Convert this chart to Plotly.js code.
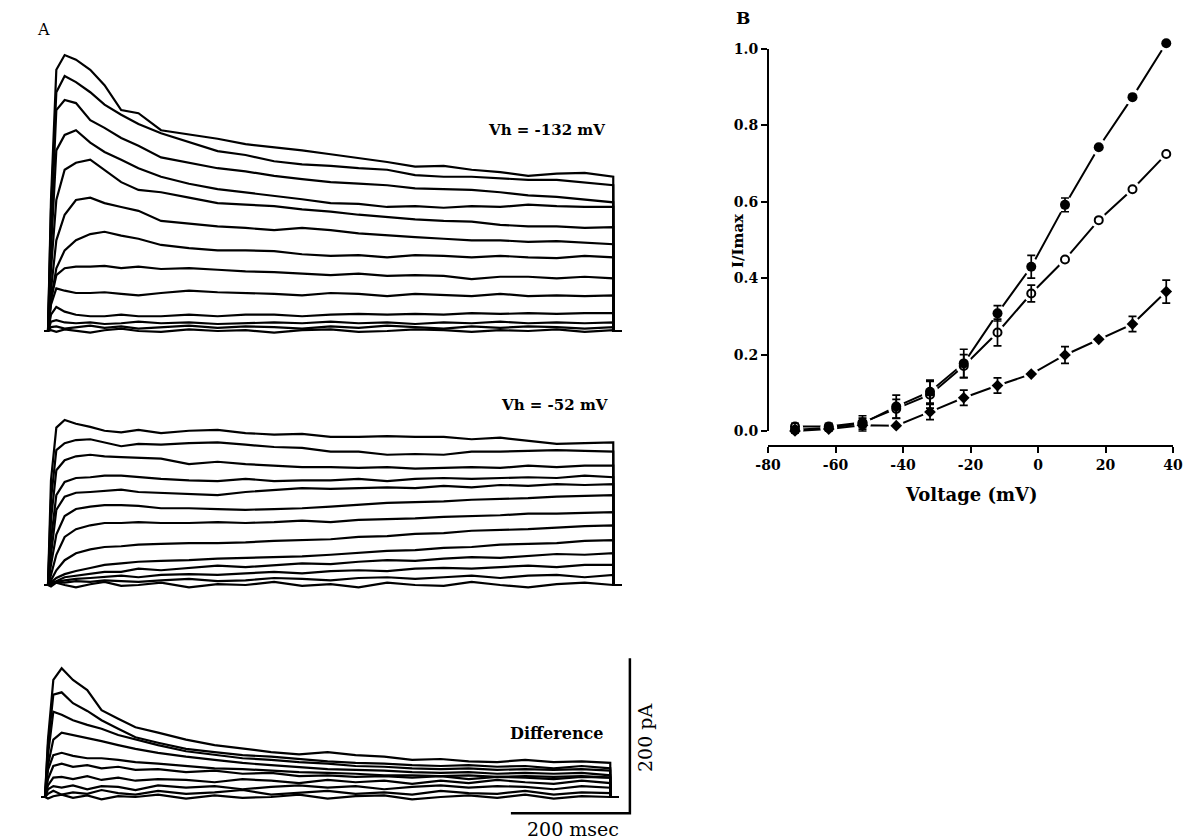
<!DOCTYPE html>
<html>
<head>
<meta charset="utf-8">
<script src="https://cdn.plot.ly/plotly-3.0.1.min.js"></script>
<style>html,body{margin:0;padding:0;background:#fff;}#chart{width:1193px;height:840px;}</style>
</head>
<body>
<div id="chart"></div>
<script>
// ---------- Panel A data (current traces, pA vs time, ms) ----------
const TIME_MS = [0,5,14,28,47,71,95,123,152,190,237,285,332,380,427,475,522,570,617,665,712,760,807,855,902,950];
const PULSE_END_MS = 950;

// Vh = -132 mV family (pA)
const vh132Traces = [
  [0,169,337,356,350,337,317,285,281,259,254,248,241,237,233,228,223,218,212,213,208,205,200,203,204,199],
  [0,156,308,329,321,308,292,279,267,255,244,232,227,219,215,213,210,208,201,199,199,197,195,195,192,188],
  [0,130,285,298,294,272,262,249,239,224,217,210,206,200,196,192,190,188,184,183,182,179,175,173,170,166],
  [0,104,233,253,259,243,231,221,210,199,190,183,179,174,170,165,164,160,161,159,161,160,163,161,160,160],
  [0,79,169,208,217,221,208,192,182,179,172,165,163,161,157,154,150,147,144,142,141,137,135,135,133,134],
  [0,53,117,150,169,172,165,160,155,142,139,135,133,130,133,130,126,123,121,119,117,117,115,116,114,112],
  [0,40,81,104,117,125,128,123,119,111,107,104,104,103,99,97,98,95,98,97,95,97,95,94,97,95],
  [0,40,72,81,83,83,84,81,83,80,81,79,77,76,74,72,74,71,72,71,67,70,70,68,70,68],
  [0,34,55,52,49,49,50,48,46,49,52,50,49,48,46,49,48,45,48,46,45,48,45,46,45,46],
  [0,21,31,25,21,19,19,21,19,19,21,19,21,21,19,21,22,21,22,21,23,22,23,22,23,23],
  [0,12,14,11,10,11,9,10,12,10,11,9,10,11,10,12,10,11,9,11,10,12,10,11,10,11],
  [0,5,6,3,5,7,4,6,3,5,7,4,6,5,3,6,4,7,5,3,6,4,6,5,3,5],
  [0,1,-1,2,0,-2,1,3,0,-1,2,0,1,-2,1,2,-1,0,2,1,-1,1,0,2,-1,1]
];

// Vh = -52 mV family (pA)
const vh52Traces = [
  [0,135,203,213,208,204,199,197,200,196,199,200,196,194,195,191,191,192,191,191,188,190,186,182,183,184],
  [0,110,174,183,187,188,184,179,182,181,183,184,181,178,177,172,172,168,169,168,172,172,173,174,173,172],
  [0,84,148,161,166,168,166,165,164,163,156,159,156,154,152,152,151,152,150,151,152,151,154,152,154,154],
  [0,58,116,133,138,139,141,141,139,137,135,134,137,134,135,135,137,134,137,138,137,138,139,138,141,139],
  [0,39,97,114,119,120,121,123,120,119,117,116,120,123,125,124,125,126,125,128,126,129,128,130,129,130],
  [0,26,65,89,98,101,103,103,102,99,99,98,97,98,99,101,103,106,107,108,110,111,112,114,115,116],
  [0,13,39,62,72,77,80,80,81,80,80,81,80,81,83,81,84,85,86,88,89,90,92,92,93,94],
  [0,6,19,32,41,46,49,50,52,53,54,54,55,57,58,59,62,63,66,67,70,71,72,74,76,77],
  [0,3,9,14,18,22,26,28,30,31,32,34,35,36,37,39,41,44,45,48,49,52,53,54,57,58],
  [0,1,5,10,12,15,17,17,21,19,22,25,23,26,28,27,30,32,31,34,36,35,37,40,39,41],
  [0,1,4,6,8,9,10,12,10,13,14,13,15,17,15,18,19,18,21,22,21,23,25,23,26,26],
  [0,3,4,3,5,4,6,5,4,6,8,5,6,9,8,6,9,10,8,10,12,9,12,13,10,13],
  [0,-2,3,0,-3,1,4,-1,0,3,-3,1,0,4,-1,1,-3,3,0,-1,4,0,-3,1,3,0]
];

// Difference family (pA)
const diffTraces = [
  [0,74,151,166,151,138,112,101,90,83,74,67,63,58,55,58,54,52,48,49,46,45,48,45,46,44],
  [0,67,132,135,121,111,99,88,77,70,62,58,54,52,49,46,44,43,41,40,41,39,40,37,40,37],
  [0,54,110,106,99,93,88,80,74,67,59,54,50,48,45,43,40,39,37,36,37,35,36,35,36,34],
  [0,41,74,83,80,76,72,67,62,57,52,48,44,41,39,36,35,34,32,31,32,30,31,30,31,28],
  [0,35,54,57,53,50,50,48,45,43,40,37,36,34,32,31,30,28,28,27,28,26,27,26,27,25],
  [0,23,40,43,39,41,37,39,35,36,32,34,30,31,27,28,26,27,25,27,23,26,25,23,26,25],
  [0,15,25,26,23,27,22,25,21,23,22,19,23,21,18,22,19,21,17,21,18,22,19,17,21,18],
  [0,10,14,12,15,10,14,13,9,15,12,14,10,13,15,12,14,10,13,15,12,14,13,10,14,12],
  [0,4,8,3,6,4,9,5,3,8,4,6,9,3,5,8,4,6,3,8,5,4,8,3,6,5],
  [0,-2,1,3,-1,2,-3,1,0,3,-2,2,-1,0,3,-2,1,2,-3,0,2,-1,3,-2,1,0]
];

// Scale bar
const SCALE_MS = 200;
const SCALE_PA = 200;
const SCALE_ORIGIN_MS = 983;
const SCALE_ORIGIN_PA = -21;

// ---------- Panel B data ----------
const voltage   = [-72,-62,-52,-42,-32,-22,-12,-2,8,18,28,38];
const iFilled   = [0.003,0.008,0.020,0.064,0.103,0.177,0.308,0.430,0.592,0.743,0.874,1.015];
const errFilled = [0.008,0.008,0.020,0.030,0.030,0.037,0.020,0.030,0.018,0,0,0];
const iOpen     = [0.012,0.012,0.022,0.058,0.095,0.170,0.258,0.360,0.449,0.552,0.633,0.725];
const errOpen   = [0.008,0.008,0.012,0.025,0.035,0.030,0.035,0.022,0,0,0,0];
const iDiamond  = [0.000,0.005,0.015,0.014,0.050,0.087,0.119,0.149,0.199,0.240,0.280,0.365];
const errDiamond= [0,0,0.010,0,0.020,0.020,0.020,0,0.022,0,0.020,0.030];
const yTicksB   = [0,0.2,0.4,0.6,0.8,1.0];
const xTicksB   = [-80,-60,-40,-20,0,20,40];

// ---------- build ----------
const W = 1193, H = 840;
const px = v => v / W;
const py = v => 1 - v / H;
const SERIF = '"DejaVu Serif", "Liberation Serif", serif';

const data = [];
function addFamily(fam, xa, ya) {
  fam.forEach(vals => {
    data.push({
      type: 'scatter', mode: 'lines', xaxis: xa, yaxis: ya,
      x: [-6].concat(TIME_MS, [PULSE_END_MS + 0.5, PULSE_END_MS + 14]),
      y: [0].concat(vals, [0, 0]),
      line: {color: '#000', width: 2.2}, hoverinfo: 'skip'
    });
  });
}
addFamily(vh132Traces, 'x', 'y');
addFamily(vh52Traces, 'x2', 'y2');
addFamily(diffTraces, 'x3', 'y3');

data.push({
  type: 'scatter', mode: 'lines', xaxis: 'x3', yaxis: 'y3',
  x: [SCALE_ORIGIN_MS - SCALE_MS, SCALE_ORIGIN_MS, SCALE_ORIGIN_MS],
  y: [SCALE_ORIGIN_PA, SCALE_ORIGIN_PA, SCALE_ORIGIN_PA + SCALE_PA],
  line: {color: '#000', width: 2.5}, hoverinfo: 'skip', cliponaxis: false
});

const errArr = a => a.map(v => (v > 0 ? v : NaN));

// Panel B lines
[iFilled, iOpen, iDiamond].forEach(s => {
  data.push({type:'scatter', mode:'lines', xaxis:'x4', yaxis:'y4', x: voltage, y: s,
    line:{color:'#000', width:2}, cliponaxis:false, hoverinfo:'skip'});
});
// halos (gaps around markers)
[[iFilled,17],[iOpen,16],[iDiamond,15]].forEach(([s,sz]) => {
  data.push({type:'scatter', mode:'markers', xaxis:'x4', yaxis:'y4', x: voltage, y: s,
    marker:{color:'#fff', size: sz, line:{width:0}}, cliponaxis:false, hoverinfo:'skip'});
});
data.push({type:'scatter', mode:'markers', xaxis:'x4', yaxis:'y4', x: voltage, y: iDiamond,
  marker:{symbol:'diamond', color:'#000', size:9},
  error_y:{type:'data', array: errArr(errDiamond), visible:true, color:'#000', thickness:1.7, width:4},
  cliponaxis:false});
data.push({type:'scatter', mode:'markers', xaxis:'x4', yaxis:'y4', x: voltage, y: iOpen,
  marker:{symbol:'circle-open', color:'#000', size:8, line:{width:2, color:'#000'}},
  error_y:{type:'data', array: errArr(errOpen), visible:true, color:'#000', thickness:1.7, width:4},
  cliponaxis:false});
data.push({type:'scatter', mode:'markers', xaxis:'x4', yaxis:'y4', x: voltage, y: iFilled,
  marker:{symbol:'circle', color:'#000', size:10},
  error_y:{type:'data', array: errArr(errFilled), visible:true, color:'#000', thickness:1.7, width:4},
  cliponaxis:false});

// A panel axis mapping: 0.595 px per ms, 1 px = 1.29 pA
const PX_PER_MS = 0.595, PA_PER_PX = 1.29;
function xA(X0, left, right) { return {domain:[px(left), px(right)], range:[(left-X0)/PX_PER_MS, (right-X0)/PX_PER_MS], visible:false, fixedrange:true}; }
function yA(Y0, top, bottom) { return {domain:[py(bottom), py(top)], range:[(Y0-bottom)*PA_PER_PX, (Y0-top)*PA_PER_PX], visible:false, fixedrange:true}; }

const tickFont = {family: SERIF, size: 14, color:'#000', weight: 'bold'};

function ann(text, x, y, size, opts, weight) {
  return Object.assign({text: text, x: px(x), y: py(y), xref:'paper', yref:'paper',
    showarrow:false, xanchor:'center', yanchor:'middle',
    font:{family: SERIF, size: size, color:'#000', weight: weight || 'normal'}}, opts || {});
}

const layout = {
  width: W, height: H, margin:{l:0,r:0,t:0,b:0}, showlegend:false,
  paper_bgcolor:'#fff', plot_bgcolor:'rgba(0,0,0,0)',
  xaxis: xA(48, 38, 640), yaxis: yA(331, 38, 342),
  xaxis2: xA(48, 38, 640), yaxis2: yA(585, 398, 596),
  xaxis3: xA(45, 35, 660), yaxis3: yA(797, 640, 832),
  xaxis4: {domain:[px(768), px(1173)], range:[-80,40], anchor:'y4',
    showline:true, linecolor:'#000', linewidth:2, ticks:'outside', ticklen:6, tickwidth:2, tickcolor:'#000',
    tickvals: xTicksB, ticktext: xTicksB.map(String), tickfont: tickFont, showgrid:false, zeroline:false, fixedrange:true},
  yaxis4: {domain:[py(445), py(40)], range:[-0.0366, 1.0236], anchor:'x4',
    showline:false, ticks:'outside', ticklen:6, tickwidth:2, tickcolor:'#000',
    tickvals: yTicksB, ticktext: yTicksB.map(v => v.toFixed(1)), tickfont: tickFont, showgrid:false, zeroline:false, fixedrange:true},
  shapes: [
    {type:'line', xref:'x4 domain', yref:'y4', x0:0, x1:0, y0:0, y1:1.0, line:{color:'#000', width:2}}
  ],
  annotations: [
    ann('A', 44, 30, 16),
    ann('B', 743, 18, 17, {}, 'bold'),
    ann('Vh = -132 mV', 546, 130, 15, {}, 'bold'),
    ann('Vh = -52 mV', 554, 405, 15, {}, 'bold'),
    ann('Difference', 556, 733, 16, {}, 'bold'),
    ann('200 msec', 573, 829, 19),
    ann('200 pA', 645, 738, 19, {textangle: -90}),
    ann('I/Imax', 738, 240, 15, {textangle: -90}, 'bold'),
    ann('Voltage (mV)', 971, 494, 18, {}, 'bold')
  ]
};

Plotly.newPlot('chart', data, layout, {staticPlot:true, displayModeBar:false});
</script>
</body>
</html>
